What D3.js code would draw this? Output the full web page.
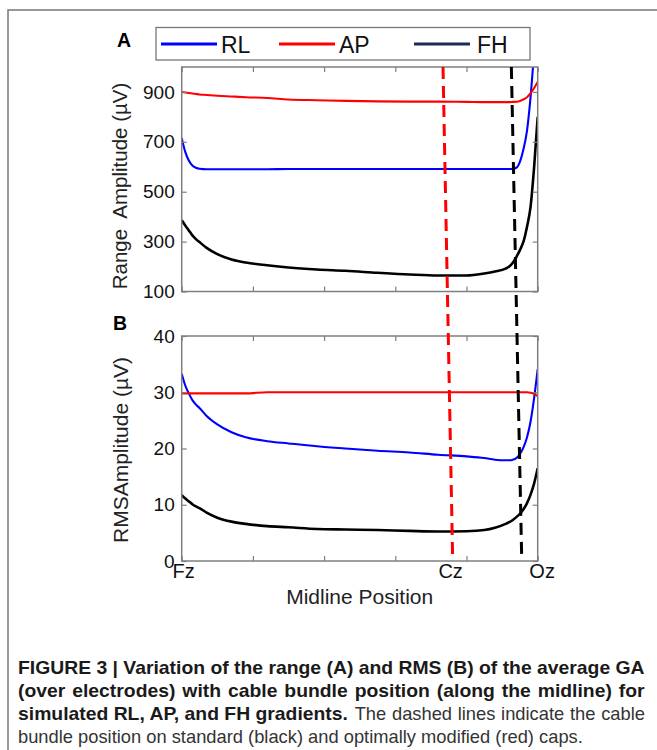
<!DOCTYPE html>
<html>
<head>
<meta charset="utf-8">
<script src="https://cdn.jsdelivr.net/npm/d3@7"></script>
<style>
  body { margin: 0; background: #fff; }
  svg { display: block; }
  text { font-family: Arial, "Liberation Sans", sans-serif; }
  .tick line { stroke: #7f7f7f; stroke-width: 1.2; }
  .tick text { fill: #111; font-size: 19px; }
</style>
</head>
<body>
<div id="container"></div>
<script>
// midline positions (0 = Fz, 100 = Oz)
const pos = [0, 1, 2, 3, 4, 5, 7, 10, 14, 18, 24, 30, 38, 46, 55, 64, 72, 80, 85, 88, 91, 92, 93, 94, 95, 96, 97, 98, 99, 100];

// panel A: range amplitude (uV)
const rlRange = [715, 660, 625, 605, 596, 592, 590, 590, 590, 590, 590, 591, 591, 591, 591, 591, 591, 591, 591, 591, 591, 591, 592, 596, 620, 670, 745, 880, 1060, 1240];
const apRange = [900, 898, 896, 894, 892, 890, 888, 885, 882, 879, 876, 870, 867, 864, 862, 861, 861, 860, 859, 859, 859, 859, 860, 861, 864, 870, 879, 895, 916, 940];
const fhRange = [386, 365, 345, 325, 310, 298, 275, 250, 228, 216, 205, 196, 188, 183, 175, 168, 164, 164, 172, 180, 192, 200, 215, 238, 266, 300, 360, 440, 600, 800];

// panel B: RMS amplitude (uV)
const rlRms = [33.3, 31.2, 29.8, 28.6, 27.8, 27.2, 25.8, 24.3, 22.9, 22.0, 21.3, 20.9, 20.4, 20.0, 19.6, 19.3, 18.9, 18.6, 18.3, 18.0, 17.9, 17.9, 18.0, 18.3, 19.0, 20.2, 22.0, 24.8, 29.0, 34.1];
const apRms = [29.8, 29.8, 29.8, 29.8, 29.8, 29.8, 29.8, 29.8, 29.8, 29.8, 30, 30, 30, 30, 30, 30, 30, 30, 30, 30, 30, 30, 30, 30, 30, 30, 30, 29.9, 29.7, 29.3];
const fhRms = [11.7, 11.1, 10.6, 10.1, 9.7, 9.4, 8.6, 7.7, 7.0, 6.6, 6.2, 6.0, 5.7, 5.6, 5.5, 5.35, 5.25, 5.3, 5.5, 5.9, 6.6, 6.9, 7.3, 7.8, 8.4, 9.2, 10.3, 11.8, 13.8, 16.5];

// cable bundle position (top of A -> bottom of B)
const capNames = ["modified", "standard"];
const capTop = [73.4, 92.6];
const capBottom = [76.1, 95.5];

const yTicksA = [100, 300, 500, 700, 900];
const yTicksB = [0, 10, 20, 30, 40];
const xTicks = [0, 20, 40, 60, 80, 100];
const midlineLabels = ["Fz", "Cz", "Oz"];
const midlinePos = [0.4, 75.4, 101.1];

const seriesNames = ["RL", "AP", "FH"];
const seriesColors = ["#0000ff", "#ff0000", "#000000"];

const W = 657, H = 750;

const svg = d3.select("#container").append("svg")
    .attr("width", W)
    .attr("height", H);

svg.append("rect").attr("width", W).attr("height", H).attr("fill", "#fff");

// outer frame (left + top)
svg.append("path")
    .attr("d", "M8," + H + "V10H" + W)
    .attr("fill", "none")
    .attr("stroke", "#777")
    .attr("stroke-width", 1.5);

var x = d3.scaleLinear().domain([0, 100]).range([181.7, 537.7]);
var yA = d3.scaleLinear().domain([100, 1000]).range([291.5, 67]);
var yB = d3.scaleLinear().domain([0, 40]).range([561, 336]);

function addPanel(id, y, yTicks, data) {
    var g = svg.append("g").attr("class", "panel");
    var top = y.range()[1], bottom = y.range()[0];

    g.append("clipPath").attr("id", "clip" + id)
        .append("rect")
        .attr("x", x(0)).attr("y", top)
        .attr("width", x(100) - x(0)).attr("height", bottom - top);

    var line = d3.line()
        .curve(d3.curveMonotoneX)
        .x((d, i) => x(pos[i]))
        .y(d => y(d));

    var lines = g.append("g").attr("clip-path", "url(#clip" + id + ")");
    data.forEach(function(d, i) {
        lines.append("path")
            .datum(d)
            .attr("d", line)
            .attr("fill", "none")
            .attr("stroke", seriesColors[i])
            .attr("stroke-width", i == 2 ? 2.6 : 2.1)
            .attr("stroke-linejoin", "round");
    });

    // ticks pointing inward on all four sides
    var ax = [
        [d3.axisBottom(x).tickValues(xTicks), "translate(0," + bottom + ")"],
        [d3.axisTop(x).tickValues(xTicks), "translate(0," + top + ")"],
        [d3.axisRight(y).tickValues(yTicks), "translate(" + x(100) + ",0)"]
    ];
    ax.forEach(function(a) {
        g.append("g")
            .attr("transform", a[1])
            .call(a[0].tickSize(-5).tickSizeOuter(0).tickFormat(""))
            .call(s => s.select(".domain").remove());
    });

    g.append("g")
        .attr("transform", "translate(" + x(0) + ",0)")
        .call(d3.axisLeft(y).tickValues(yTicks).tickSize(-5).tickSizeOuter(0).tickPadding(7))
        .call(s => s.select(".domain").remove());

    g.append("rect")
        .attr("x", x(0)).attr("y", top)
        .attr("width", x(100) - x(0)).attr("height", bottom - top)
        .attr("fill", "none")
        .attr("stroke", "#7f7f7f")
        .attr("stroke-width", 1.5);

    return g;
}

addPanel("A", yA, yTicksA, [rlRange, apRange, fhRange]);
var gB = addPanel("B", yB, yTicksB, [rlRms, apRms, fhRms]);

// midline electrode labels
gB.append("g")
    .attr("transform", "translate(0," + yB(0) + ")")
    .call(d3.axisBottom(x).tickValues(midlinePos).tickSize(0).tickPadding(3)
        .tickFormat((d, i) => midlineLabels[i]))
    .call(s => s.select(".domain").remove())
    .selectAll("text").style("font-size", "20px");

// dashed cable bundle lines
capNames.forEach(function(c, i) {
    svg.append("line")
        .attr("x1", x(capTop[i])).attr("y1", yA(1000))
        .attr("x2", x(capBottom[i])).attr("y2", yB(0) - 4)
        .attr("stroke", i == 0 ? "#ff0000" : "#000")
        .attr("stroke-width", 3)
        .attr("stroke-dasharray", "12,7");
});

// axis titles
svg.append("text")
    .attr("transform", "translate(127,186) rotate(-90)")
    .attr("text-anchor", "middle")
    .style("font-size", "20.5px")
    .attr("fill", "#222")
    .attr("xml:space", "preserve")
    .text("Range  Amplitude (µV)");

svg.append("text")
    .attr("transform", "translate(128,450) rotate(-90)")
    .attr("text-anchor", "middle")
    .style("font-size", "21px")
    .attr("fill", "#222")
    .text("RMSAmplitude (µV)");

svg.append("text")
    .attr("x", (x(0) + x(100)) / 2).attr("y", 604)
    .attr("text-anchor", "middle")
    .style("font-size", "21px")
    .attr("fill", "#222")
    .text("Midline Position");

// panel letters
[["A", 117, 46.5], ["B", 113, 330]].forEach(function(d) {
    svg.append("text")
        .attr("x", d[1]).attr("y", d[2])
        .style("font-size", "19.5px")
        .style("font-weight", "bold")
        .text(d[0]);
});

// legend
var legend = svg.append("g");
legend.append("rect")
    .attr("x", 156).attr("y", 27.5)
    .attr("width", 374).attr("height", 32.5)
    .attr("fill", "#fff")
    .attr("stroke", "#777")
    .attr("stroke-width", 1.3);

var legendX = [161, 279, 414];
seriesNames.forEach(function(n, i) {
    legend.append("line")
        .attr("x1", legendX[i]).attr("x2", legendX[i] + 56)
        .attr("y1", 44).attr("y2", 44)
        .attr("stroke", i == 2 ? "#1c2a56" : seriesColors[i])
        .attr("stroke-width", 3);
    legend.append("text")
        .attr("x", legendX[i] + 60 + (i == 2 ? 3 : 0)).attr("y", 53)
        .style("font-size", "23px")
        .attr("fill", "#111")
        .text(n);
});

// caption: condensed, justified to the right edge
var cap = svg.append("g")
    .style("font-family", "'Liberation Sans', Arial, sans-serif")
    .style("font-size", "17.5px");

var capLeft = 18, capRight = 645;

function capText(str, bold, x0, y0) {
    var t = cap.append("text")
        .attr("xml:space", "preserve")
        .attr("transform", "translate(" + x0 + "," + y0 + ")")
        .style("font-weight", bold ? "bold" : "normal")
        .attr("fill", bold ? "#1a1a1a" : "#333")
        .text(str);
    t.natural = t.node().getComputedTextLength();
    return t;
}
function fit(t, x0, y0, s, right) {
    t.attr("transform", "translate(" + x0 + "," + y0 + ") scale(" + s + ",1)");
    if (right) {
        var spaces = (t.text().match(/ /g) || []).length;
        t.style("word-spacing", ((right - x0) / s - t.natural) / spaces + "px");
    }
}

var l1 = capText("FIGURE 3 | Variation of the range (A) and RMS (B) of the average GA", true, capLeft, 674);
var l2 = capText("(over electrodes) with cable bundle position (along the midline) for", true, capLeft, 697);
var l3a = capText("simulated RL, AP, and FH gradients.", true, capLeft, 720);
var l3b = capText("The dashed lines indicate the cable", false, 0, 720);
var l4 = capText("bundle position on standard (black) and optimally modified (red) caps.", false, capLeft, 743);

var sBold = (capRight - capLeft) / l1.natural;
var sReg = 565 / l4.natural;

fit(l1, capLeft, 674, sBold, null);
fit(l2, capLeft, 697, sBold, capRight);
fit(l3a, capLeft, 720, sBold, null);
fit(l3b, capLeft + l3a.natural * sBold + 6.5, 720, sReg, capRight);
fit(l4, capLeft, 743, sReg, null);
</script>
</body>
</html>
